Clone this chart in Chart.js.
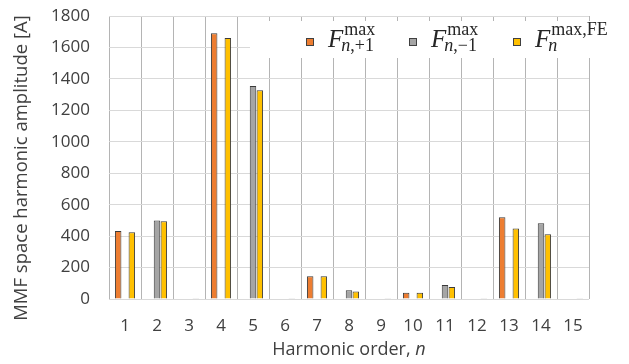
<!DOCTYPE html>
<html>
<head>
<meta charset="utf-8">
<script src="https://cdn.jsdelivr.net/npm/chart.js@4/dist/chart.umd.min.js"></script>
<style>
html,body{margin:0;padding:0;background:#fff;}
#c{display:block;}
</style>
</head>
<body>
<canvas id="c" width="629" height="364"></canvas>
<script>
const harmonicOrders = ['1','2','3','4','5','6','7','8','9','10','11','12','13','14','15'];
const fPlus1 = [432, null, null, 1690, null, null, 144, null, null, 40, null, null, 520, null, null];
const fMinus1 = [null, 499, null, null, 1354, null, null, 55, null, null, 89, null, null, 482, null];
const fFE = [424, 494, 2, 1660, 1327, 2, 144, 48, 2, 40, 76, 2, 448, 412, 2];
const yTicks = [0, 200, 400, 600, 800, 1000, 1200, 1400, 1600, 1800];
const yTitle = 'MMF space harmonic amplitude [A]';
const xTitleMain = 'Harmonic order, ';
const xTitleVar = 'n';

const textColor = '#404040';
const tickFont = {family: '"Open Sans"', size: 17};
const colors = ['#ED7D31', '#A5A5A5', '#FFC000'];

const legendPlugin = {
  id: 'mathLegend',
  afterDraw(chart) {
    const ctx = chart.ctx;
    ctx.save();
    ctx.fillStyle = '#ffffff';
    ctx.fillRect(250, 21, 352, 37);
    const items = [
      {mx: 306, color: colors[0], sup: [['max', false]], sub: [['n', true], [',+1', false]]},
      {mx: 409, color: colors[1], sup: [['max', false]], sub: [['n', true], [',\u22121', false]]},
      {mx: 513, color: colors[2], sup: [['max,FE', false]], sub: [['n', true]]}
    ];
    const serif = '"Liberation Serif"';
    items.forEach(it => {
      ctx.fillStyle = it.color;
      ctx.fillRect(it.mx, 38, 7, 7);
      ctx.strokeStyle = '#404040';
      ctx.lineWidth = 1;
      ctx.strokeRect(it.mx + 0.5, 38.5, 7, 7);
      ctx.fillStyle = '#262626';
      ctx.textBaseline = 'alphabetic';
      ctx.textAlign = 'left';
      ctx.font = 'italic 25px ' + serif;
      const fx = it.mx + 22;
      ctx.fillText('F', fx, 47);
      const after = fx + ctx.measureText('F').width + 1;
      let x = after;
      it.sup.forEach(([t, ital]) => {
        ctx.font = (ital ? 'italic ' : '') + '18px ' + serif;
        ctx.fillText(t, x, 35);
        x += ctx.measureText(t).width;
      });
      x = after - 3;
      it.sub.forEach(([t, ital]) => {
        ctx.font = (ital ? 'italic ' : '') + '18px ' + serif;
        ctx.fillText(t, x, 51);
        x += ctx.measureText(t).width;
      });
    });
    // x-axis title with italic n
    const xa = chart.scales.x;
    const cx = (xa.left + xa.right) / 2;
    ctx.font = '18px "Open Sans"';
    const w1 = ctx.measureText(xTitleMain).width;
    ctx.font = 'italic 18px "Open Sans"';
    const w2 = ctx.measureText(xTitleVar).width;
    let sx = cx - (w1 + w2) / 2;
    ctx.fillStyle = textColor;
    ctx.textBaseline = 'middle';
    ctx.font = '18px "Open Sans"';
    ctx.fillText(xTitleMain, sx, 350);
    ctx.font = 'italic 18px "Open Sans"';
    ctx.fillText(xTitleVar, sx + w1, 350);
    // y-axis title
    ctx.translate(22, 168);
    ctx.rotate(-Math.PI / 2);
    ctx.textAlign = 'center';
    ctx.textBaseline = 'middle';
    ctx.font = '18.5px "Open Sans"';
    ctx.fillText(yTitle, 0, 0);
    ctx.restore();
  }
};

new Chart(document.getElementById('c'), {
  type: 'bar',
  data: {
    labels: harmonicOrders,
    datasets: [
      {label: 'F n,+1 max', data: fPlus1, backgroundColor: colors[0], borderColor: '#3a3a3a', borderWidth: 1, borderSkipped: 'bottom'},
      {label: 'F n,-1 max', data: fMinus1, backgroundColor: colors[1], borderColor: '#3a3a3a', borderWidth: 1, borderSkipped: 'bottom'},
      {label: 'F n max,FE', data: fFE, backgroundColor: colors[2], borderColor: '#3a3a3a', borderWidth: 1, borderSkipped: 'bottom'}
    ]
  },
  options: {
    responsive: false,
    devicePixelRatio: 1,
    animation: false,
    layout: {padding: {top: 16, left: 0, right: 40, bottom: 0}},
    datasets: {bar: {categoryPercentage: 0.64, barPercentage: 0.95}},
    plugins: {legend: {display: false}, tooltip: {enabled: false}},
    scales: {
      x: {
        grid: {offset: true, color: '#b4b4b4', drawTicks: false, lineWidth: 1},
        border: {display: false},
        ticks: {color: textColor, font: tickFont, padding: 17},
        afterFit(s) { s.height = 65; s.paddingLeft = 0; s.paddingRight = 0; }
      },
      y: {
        min: 0, max: 1800,
        afterBuildTicks(s) { s.ticks = yTicks.map(v => ({value: v})); },
        grid: {color: '#d9d9d9', drawTicks: false},
        border: {display: false},
        ticks: {color: textColor, font: tickFont, padding: 19, callback: v => String(v)},
        afterFit(s) { s.width = 109; s.paddingTop = 0; s.paddingBottom = 0; }
      }
    }
  },
  plugins: [legendPlugin]
});
</script>
</body>
</html>
